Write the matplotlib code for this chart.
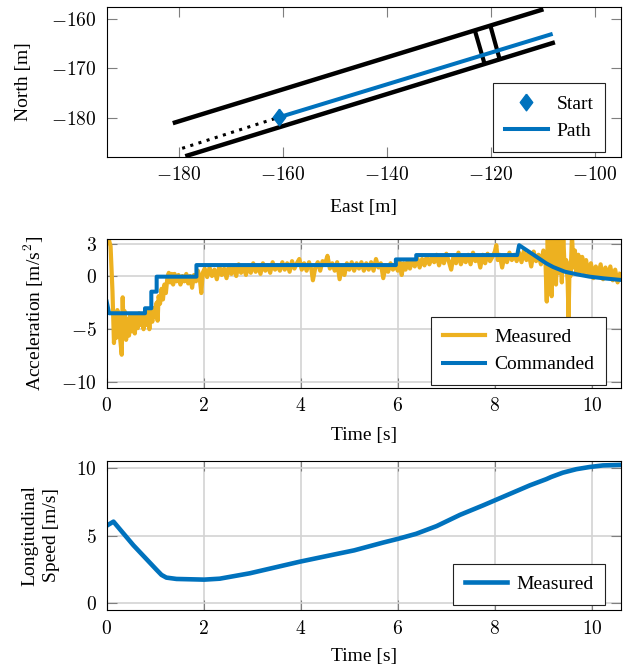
import numpy as np
import matplotlib
matplotlib.use("Agg")
import matplotlib.pyplot as plt
from matplotlib.ticker import FuncFormatter

plt.rcParams['font.family'] = ['Liberation Serif', 'DejaVu Serif']
plt.rcParams['mathtext.fontset'] = 'cm'
plt.rcParams['font.size'] = 14

BLUE = '#0072BD'
YELLOW = '#EDB120'

# --- top plot: road edges, gate and driven path (East, North in m)
edge_upper_e = [-181.1, -109.9]
edge_upper_n = [-181.1, -158.0]
edge_lower_e = [-178.7, -107.7]
edge_lower_n = [-187.8, -164.7]
gate1_e = [-123.1, -121.2]
gate1_n = [-162.2, -169.1]
gate2_e = [-120.1, -118.3]
gate2_n = [-161.3, -168.2]
lead_e = [-179.3, -160.7]
lead_n = [-186.2, -179.9]
path_e = [-160.7, -108.5]
path_n = [-179.9, -163.1]
start_e = [-160.7]
start_n = [-179.9]

# --- acceleration (m/s^2)
meas_t = [0.00, 0.04, 0.08, 0.12, 0.15, 0.18, 0.20, 0.22, 0.24, 0.26, 0.28, 0.31, 0.33, 0.35,
          0.37, 0.40, 0.43, 0.46, 0.49, 0.52, 0.55, 0.58, 0.61, 0.64, 0.67, 0.70, 0.73, 0.76,
          0.79, 0.82, 0.85, 0.88, 0.91, 0.94, 0.97, 1.00, 1.03, 1.05, 1.07, 1.10, 1.13, 1.16,
          1.19, 1.22, 1.25, 1.28, 1.31, 1.34, 1.37,
          1.40, 1.44, 1.48, 1.52, 1.56, 1.60, 1.64, 1.68, 1.72, 1.76, 1.80, 1.84, 1.88, 1.92,
          1.95, 1.98,
          2.02, 2.07, 2.12, 2.17, 2.22, 2.27, 2.32, 2.37, 2.42, 2.47, 2.52, 2.57, 2.62, 2.67,
          2.72, 2.77, 2.82, 2.87, 2.92, 2.97, 3.02, 3.07, 3.12, 3.17, 3.22, 3.27, 3.32, 3.37,
          3.42, 3.47,
          3.52, 3.57, 3.62, 3.67, 3.72, 3.77, 3.82, 3.87, 3.92, 3.97, 4.02, 4.07, 4.12, 4.17,
          4.22, 4.25, 4.30, 4.35, 4.40, 4.45, 4.50, 4.55, 4.60, 4.65, 4.70, 4.75, 4.80, 4.85,
          4.90, 4.95, 5.00, 5.05, 5.10, 5.15, 5.20, 5.25, 5.30, 5.35, 5.40, 5.45, 5.50, 5.55,
          5.60, 5.65, 5.70, 5.75, 5.80, 5.85, 5.90, 5.95,
          6.00, 6.04, 6.08, 6.12, 6.16, 6.20, 6.25, 6.30, 6.35, 6.40, 6.45, 6.50, 6.55, 6.60,
          6.65, 6.70, 6.75, 6.80, 6.85, 6.90, 6.95, 7.00, 7.05, 7.10, 7.15, 7.20, 7.25, 7.30,
          7.35, 7.40, 7.45, 7.50, 7.55, 7.60, 7.65, 7.70, 7.75, 7.80, 7.85, 7.90, 7.95, 8.00,
          8.03, 8.06, 8.10, 8.15, 8.20, 8.25, 8.30, 8.35, 8.40, 8.45,
          8.50, 8.55, 8.60, 8.65, 8.70, 8.75, 8.80, 8.85, 8.90, 8.95, 9.00, 9.04,
          9.07, 9.09, 9.11, 9.13, 9.15, 9.17, 9.19, 9.21, 9.23, 9.26, 9.29, 9.32, 9.35, 9.38,
          9.41, 9.44, 9.47, 9.50, 9.52, 9.54, 9.56, 9.59, 9.62, 9.65, 9.68, 9.72, 9.76, 9.80,
          9.84, 9.88,
          9.93, 9.98, 10.03, 10.08, 10.13, 10.18, 10.23, 10.28, 10.33, 10.38, 10.43, 10.48,
          10.53, 10.58]
meas_a = [3.3, 3.5, 2.8, -1.5, -6.3, -4.0, -5.8, -3.2, -5.5, -3.8, -6.0, -7.4, -2.0, -5.2,
          -3.3, -6.0, -4.0, -5.6, -3.6, -5.2, -3.8, -5.4, -3.7, -4.9, -3.5, -4.6, -3.6, -5.0,
          -3.5, -4.6, -3.3, -5.0, -3.2, -4.3, -3.0, -3.8, -2.5, -4.2, -1.9, -2.6, -1.2, -2.2,
          -0.8, -1.6, -0.2, 0.3, -0.6, 0.2, -0.8,
          0.2, -0.5, 0.1, -0.8, 0.0, -0.5, 0.2, -0.7, 0.0, -1.1, 0.1, -0.5, 0.5, -0.3,
          -1.6, 0.3,
          0.7, -0.1, 0.8, 0.0, 0.6, -0.3, 0.9, 0.1, 0.7, -0.2, 1.0, 0.2, 0.8, 0.0,
          1.1, 0.3, 0.9, 0.1, 1.0, 0.3, 1.2, 0.4, 0.9, 0.2, 1.2, 0.5, 1.0, 0.3,
          1.3, 0.6,
          1.0, 0.5, 1.3, 0.6, 1.2, 0.4, 1.4, 0.7, 1.2, 1.6, 0.6, 1.2, 0.5, 1.3,
          0.6, -0.4, 0.8, 1.3, 0.5, 1.4, 1.1, 1.9, 0.7, 1.2, 0.5, 1.3, -0.3, 0.9,
          0.1, 1.2, 0.6, 1.3, 0.5, 1.2, 0.7, 1.3, 0.5, 1.2, 0.6, 1.3, 0.5, 1.6,
          0.8, 1.2, -0.2, 0.9, 0.4, 1.2, 0.6, 1.1,
          0.5, 1.3, 0.1, 1.2, 0.6, 1.4, 0.7, 1.5, 0.9, 1.7, 0.8, 1.6, 1.0, 1.9,
          1.1, 1.7, 1.3, 2.0, 1.0, 1.8, 1.2, 2.1, 1.4, 0.6, 1.9, 1.2, 2.2, 1.1,
          1.8, 1.3, 2.0, 1.1, 2.2, 1.4, 1.9, 0.8, 2.0, 1.2, 2.1, 1.4, 1.8, 2.3,
          2.9, 1.5, 2.0, 0.8, 1.9, 1.3, 2.2, 1.5, 2.0, 1.4,
          2.2, 1.3, 2.4, 1.5, 2.1, 0.9, 2.3, 1.4, 2.0, 1.1, 2.4, 1.8,
          -2.4, 3.8, -1.0, 3.8, 0.5, -1.9, 3.8, 0.2, 2.5, -0.8, 3.8, 0.3, 3.6, -0.6,
          3.8, 0.5, 1.5, -0.5, -4.0, 1.2, 0.0, 3.8, 0.8, 2.4, 0.2, 2.0, 0.4, 1.8,
          0.3, 1.5,
          0.1, 1.2, -0.2, 0.9, 0.0, 1.1, -0.3, 0.8, -0.1, 0.9, -0.4, 0.6,
          -0.6, 0.2]

cmd_t = [0.0, 0.05, 0.79, 0.79, 0.92, 0.92, 1.03, 1.03, 1.85, 1.85, 5.96, 5.96, 6.38, 6.38,
         8.46, 8.50, 8.78, 9.06, 9.20, 9.44, 9.70, 9.95, 10.25, 10.60]
cmd_a = [-2.4, -3.5, -3.5, -3.03, -3.03, -1.47, -1.47, -0.06, -0.06, 1.03, 1.03, 1.56, 1.56,
         1.97, 1.97, 2.9, 2.05, 1.19, 0.85, 0.41, 0.15, -0.06, -0.22, -0.37]

# --- longitudinal speed (m/s)
spd_t = [0.0, 0.14, 0.55, 1.03, 1.13, 1.23, 1.44, 2.01, 2.33, 2.95, 3.98, 4.67, 5.10,
         5.70, 6.01, 6.38, 6.80, 7.28, 7.76, 8.24, 8.72, 9.06, 9.16, 9.40, 9.68, 9.95,
         10.23, 10.60]
spd_v = [5.75, 6.05, 4.3, 2.47, 2.1, 1.9, 1.8, 1.75, 1.82, 2.22, 3.08, 3.6, 3.92,
         4.5, 4.78, 5.15, 5.72, 6.55, 7.26, 8.0, 8.74, 9.2, 9.36, 9.68, 9.94, 10.1,
         10.22, 10.26]


def style(ax, grid=True):
    for s in ax.spines.values():
        s.set_linewidth(0.8)
        s.set_color('black')
    ax.tick_params(direction='in', length=7, width=0.8, color='#7f7f7f',
                   top=True, right=True, labelsize=14)
    ax.tick_params(axis='x', pad=7)
    ax.tick_params(axis='y', pad=7)
    fmt = FuncFormatter(lambda v, p: '$%g$' % v)
    ax.xaxis.set_major_formatter(fmt)
    ax.yaxis.set_major_formatter(fmt)
    if grid:
        ax.grid(True, color='#d3d3d3', linewidth=1.2)
        ax.set_axisbelow(True)


def legend(ax, x, y):
    lg = ax.legend(loc='lower right', bbox_to_anchor=(x, y), borderaxespad=0,
                   fancybox=False, framealpha=1, edgecolor='#222222',
                   handlelength=2.2, handletextpad=0.45, borderpad=0.6, fontsize=14)
    lg.get_frame().set_linewidth(0.8)
    return lg


# diamond a bit narrower than tall, like the pgfplots one
diamond = [(0, 1), (0.75, 0), (0, -1), (-0.75, 0), (0, 1)]

fig = plt.figure(figsize=(6.32, 6.70), dpi=100)
ax1 = fig.add_axes([0.1688, 0.7661, 0.8138, 0.2230])
ax2 = fig.add_axes([0.1688, 0.4213, 0.8138, 0.2215])
ax3 = fig.add_axes([0.1688, 0.0896, 0.8138, 0.2224])

# top: map
ax1.plot(edge_upper_e, edge_upper_n, color='black', lw=3.2, solid_capstyle='butt')
ax1.plot(edge_lower_e, edge_lower_n, color='black', lw=3.2, solid_capstyle='butt')
ax1.plot(gate1_e, gate1_n, color='black', lw=3.0, solid_capstyle='butt')
ax1.plot(gate2_e, gate2_n, color='black', lw=3.0, solid_capstyle='butt')
ax1.plot(lead_e, lead_n, color='black', lw=2.2, linestyle=(0, (1, 1.8)))
ax1.plot(start_e, start_n, linestyle='none', marker=diamond, markersize=12,
         color=BLUE, label='Start')
ax1.plot(path_e, path_n, color=BLUE, lw=2.9, label='Path')
ax1.set_xlim(-193.8, -95.0)
ax1.set_ylim(-187.9, -157.6)
ax1.set_xticks([-180, -160, -140, -120, -100])
ax1.set_yticks([-180, -170, -160])
style(ax1, grid=False)
ax1.set_xlabel('East [m]', va='center')
ax1.xaxis.set_label_coords(0.5, -0.343)
ax1.set_ylabel('North [m]', va='center')
ax1.yaxis.set_label_coords(-0.161, 0.5)
legend(ax1, 0.969, 0.034)

# middle: acceleration
ax2.plot(meas_t, meas_a, color=YELLOW, lw=3.0, label='Measured')
ax2.plot(cmd_t, cmd_a, color=BLUE, lw=2.9, label='Commanded')
ax2.set_xlim(0, 10.6)
ax2.set_ylim(-10.5, 3.45)
ax2.set_xticks([0, 2, 4, 6, 8, 10])
ax2.set_yticks([-10, -5, 0, 3])
style(ax2)
ax2.set_xlabel('Time [s]', va='center')
ax2.xaxis.set_label_coords(0.5, -0.319)
ax2.set_ylabel('Acceleration [m/s$^2$]', va='center')
ax2.yaxis.set_label_coords(-0.141, 0.5)
legend(ax2, 0.9706, 0.018)

# bottom: speed
ax3.plot(spd_t, spd_v, color=BLUE, lw=3.3, label='Measured')
ax3.set_xlim(0, 10.6)
ax3.set_ylim(-0.5, 10.55)
ax3.set_xticks([0, 2, 4, 6, 8, 10])
ax3.set_yticks([0, 5, 10])
style(ax3)
ax3.set_xlabel('Time [s]', va='center')
ax3.xaxis.set_label_coords(0.5, -0.315)
ax3.set_ylabel('Longitudinal\nSpeed [m/s]', va='center', linespacing=1.35)
ax3.yaxis.set_label_coords(-0.128, 0.5)
legend(ax3, 0.969, 0.034)

fig.savefig('out.png', dpi=100)
